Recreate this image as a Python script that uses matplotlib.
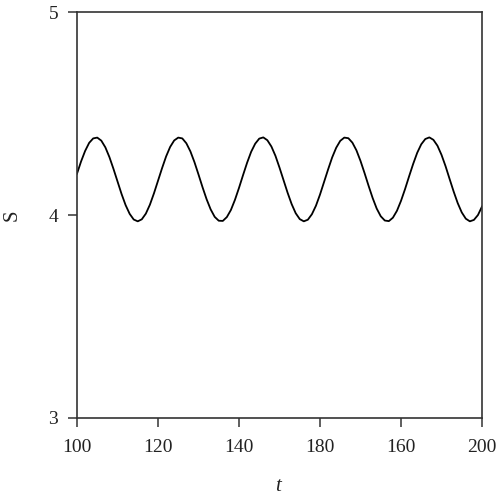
import matplotlib
matplotlib.use("Agg")
import matplotlib.pyplot as plt

t = list(range(100, 201))
S = [4.205, 4.265, 4.317, 4.357, 4.379, 4.383, 4.368, 4.335, 4.287, 4.229,
     4.167, 4.105, 4.050, 4.007, 3.979, 3.970, 3.980, 4.008, 4.052, 4.108,
     4.170, 4.232, 4.290, 4.337, 4.369, 4.383, 4.379, 4.355, 4.315, 4.262,
     4.201, 4.138, 4.079, 4.029, 3.992, 3.973, 3.972, 3.991, 4.026, 4.076,
     4.135, 4.198, 4.259, 4.313, 4.353, 4.378, 4.384, 4.370, 4.339, 4.293,
     4.235, 4.173, 4.111, 4.055, 4.010, 3.981, 3.970, 3.978, 4.005, 4.047,
     4.102, 4.164, 4.226, 4.285, 4.333, 4.367, 4.383, 4.380, 4.358, 4.320,
     4.268, 4.208, 4.145, 4.085, 4.033, 3.995, 3.974, 3.971, 3.988, 4.022,
     4.071, 4.129, 4.192, 4.253, 4.308, 4.350, 4.376, 4.384, 4.372, 4.343,
     4.298, 4.242, 4.179, 4.117, 4.060, 4.014, 3.983, 3.970, 3.977, 4.001,
     4.043]

xtick_pos = [100, 120, 140, 160, 180, 200]
xtick_labels = ["100", "120", "140", "180", "160", "200"]
ytick_pos = [3, 4, 5]
ytick_labels = ["3", "4", "5"]

plt.rcParams['font.family'] = ['Liberation Serif', 'DejaVu Serif']
plt.rcParams['mathtext.fontset'] = 'custom'
plt.rcParams['mathtext.it'] = 'Liberation Serif:italic'
plt.rcParams['mathtext.rm'] = 'Liberation Serif'

fig = plt.figure(figsize=(4.98, 5.0), dpi=100)
ax = fig.add_axes([77/498, 82/500, (482-77)/498, (418-12.5)/500])

ax.plot(t, S, color='black', lw=1.3)
ax.set_xlim(100, 200)
ax.set_ylim(3, 5)
ax.set_xticks(xtick_pos)
ax.set_xticklabels(xtick_labels)
ax.set_yticks(ytick_pos)
ax.set_yticklabels(ytick_labels)

for sp in ax.spines.values():
    sp.set_color('#333333')
    sp.set_linewidth(1.2)
ax.tick_params(direction='out', length=6.5, width=1.1, color='#333333',
               labelsize=14, labelcolor='#222222')
ax.tick_params(axis='y', pad=7)
ax.tick_params(axis='x', pad=8.5)

ax.set_xlabel('$t$', fontsize=15, labelpad=15, color='#222222')
ax.set_ylabel('S', fontsize=15, labelpad=19, color='#222222')

fig.savefig('out.png', dpi=100)
